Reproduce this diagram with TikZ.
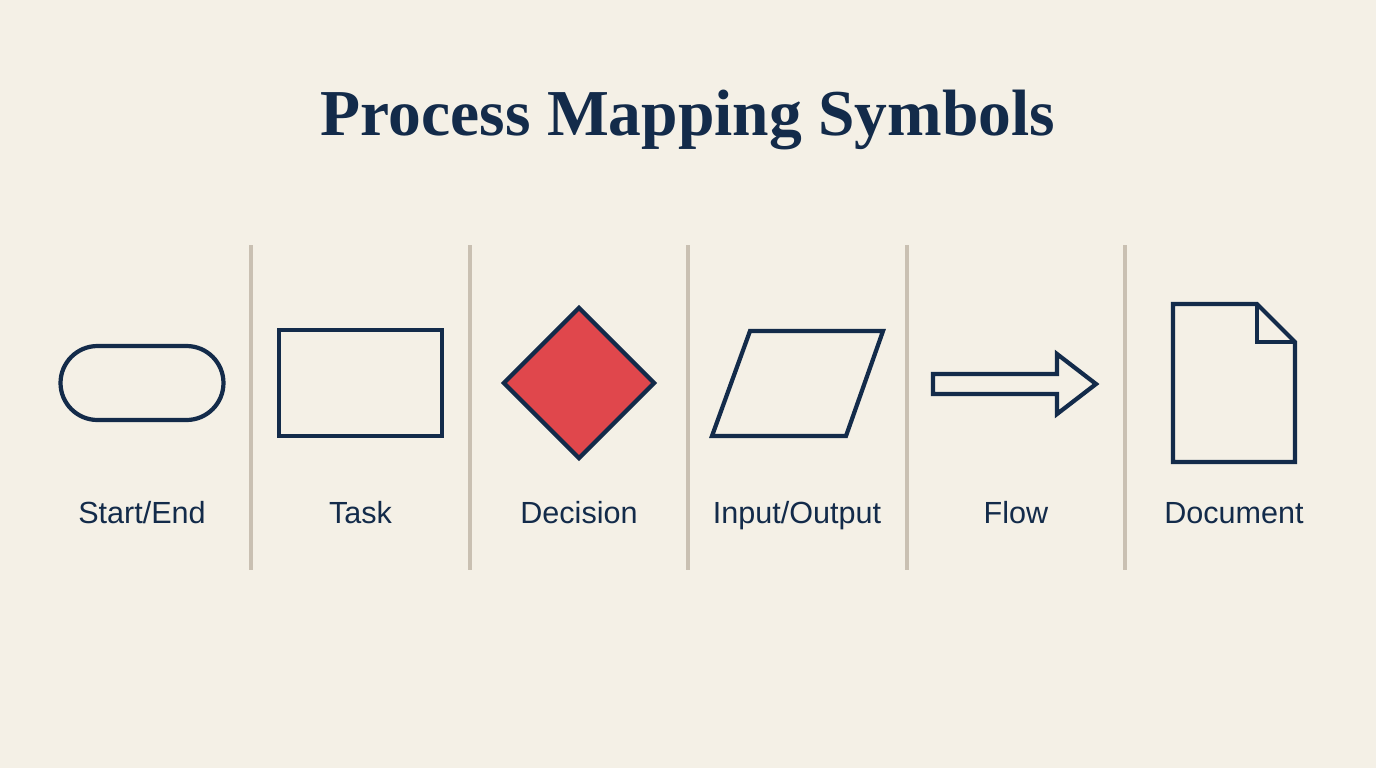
\documentclass[tikz,border=0pt]{standalone}
\usepackage{fontspec}
\setmainfont{Liberation Serif}
\setsansfont{Liberation Sans}
\usetikzlibrary{positioning,shapes.misc,shapes.geometric}
\definecolor{navy}{HTML}{132B4A}
\definecolor{paper}{HTML}{F4F0E6}
\definecolor{rulegray}{HTML}{C9C0B2}
\definecolor{decired}{HTML}{E0474C}

\begin{document}
\begin{tikzpicture}[x=0.02cm,y=-0.02cm,line width=2.4pt,
  sym/.style={draw=navy,fill=paper,line join=miter,inner sep=0pt},
  lbl/.style={text=navy,anchor=base,font=\sffamily\fontsize{17.4}{20}\selectfont},
  divider/.style={draw=rulegray,line width=2.2pt}]
   \fill[paper] (0,0) rectangle (1376,768);
   \useasboundingbox (0,0) rectangle (1376,768);
   \node[text=navy,anchor=base,font=\bfseries\fontsize{37.3}{42}\selectfont] (title) at (688,135) {Process Mapping Symbols};
   % column dividers
   \foreach \x in {251,470,688,907,1125}
     \draw[divider] (\x,245) -- (\x,570);
   % symbols
   \node[sym,rounded rectangle,minimum width=3.26cm,minimum height=1.48cm] (startend) at (142,383) {};
   \node[sym,rectangle,minimum width=3.26cm,minimum height=2.12cm] (task) at (360.5,383) {};
   \node[sym,diamond,fill=decired,minimum width=3.04cm,minimum height=3.04cm] (decision) at (579,383) {};
   \draw[sym] (750,331) -- (883,331) -- (846,436) -- (712,436) -- cycle;
   \draw[sym] (933,374) -- (1057,374) -- (1057,354) -- (1096,384) -- (1057,414)
     -- (1057,394) -- (933,394) -- cycle;
   \draw[sym] (1173,304) -- (1257,304) -- (1295,342) -- (1295,462) -- (1173,462) -- cycle;
   \draw[sym,fill=none] (1257,304) -- (1257,342) -- (1295,342);
   % labels
   \node[lbl] (l_start) at (142,523) {Start/End};
   \node[lbl] (l_task) at (360.5,523) {Task};
   \node[lbl] (l_decision) at (579,523) {Decision};
   \node[lbl] (l_io) at (797,523) {Input/Output};
   \node[lbl] (l_flow) at (1016,523) {Flow};
   \node[lbl] (l_doc) at (1234,523) {Document};
\end{tikzpicture}
\end{document}
